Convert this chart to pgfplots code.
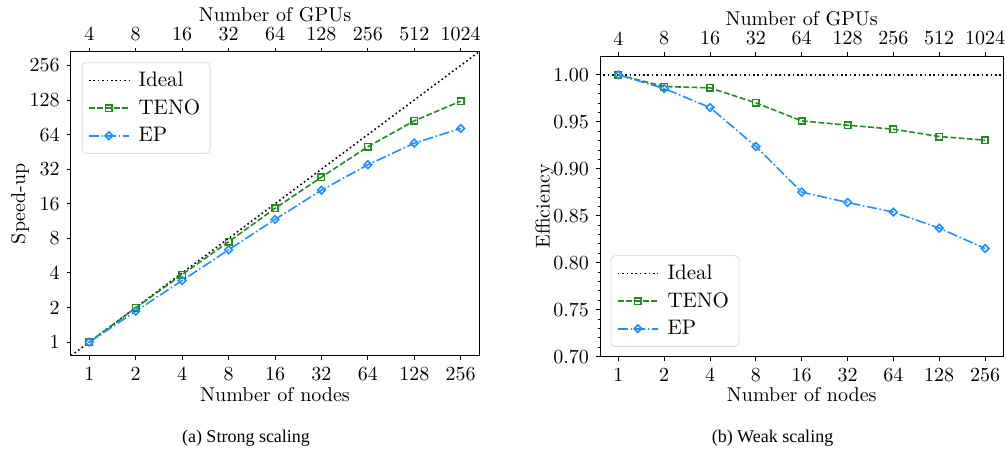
\documentclass[border=0pt]{standalone}
\usepackage{fontspec}
\usepackage{pgfplots}
\pgfplotsset{compat=1.18}
\newfontfamily\capfont{Liberation Serif}
\definecolor{tenogreen}{RGB}{34,139,34}
\definecolor{epblue}{RGB}{30,144,255}

\tikzset{
  scideal/.style={black, line width=0.8pt, dash pattern=on 0.8pt off 1.4pt},
  scteno/.style={tenogreen, line width=0.8pt, dash pattern=on 2.9pt off 1.25pt,
    mark=square, mark size=1.6pt, mark options={solid, fill=white}},
  scep/.style={epblue, line width=0.8pt, dash pattern=on 5.1pt off 1.3pt on 0.8pt off 1.3pt,
    mark=square, mark size=1.35pt, mark options={solid, fill=white, rotate=45}},
}
\pgfplotsset{
  every axis/.append style={
    scale only axis,
    tick align=outside, major tick length=2pt, minor tick length=1.2pt,
    axis line style={line width=0.5pt},
    tick style={black, line width=0.5pt},
    tick label style={font=\rmfamily\fontsize{10}{12}\selectfont},
    label style={font=\rmfamily\fontsize{10}{12}\selectfont},
    legend style={draw=black!15, rounded corners=2pt, fill=white,
      font=\rmfamily\fontsize{10.5}{12.5}\selectfont, row sep=1pt, inner xsep=3pt, inner ysep=2.5pt,
      /tikz/every odd column/.append style={column sep=2.5pt}},
    legend cell align=left,
    legend image code/.code={\draw[mark repeat=2,mark phase=2] plot coordinates {(0cm,0cm) (0.35cm,0cm) (0.7cm,0cm)};},
  },
}

\begin{document}
\begin{tikzpicture}
\useasboundingbox (0,0) rectangle (503.5pt,224.5pt);

% (a) strong scaling
\begin{axis}[at={(35.35pt,46.5pt)}, anchor=south west, width=204.3pt, height=152.2pt,
  xmode=log, log basis x=2, xmin=0.7579, xmax=337.79,
  xtick={1,2,4,8,16,32,64,128,256}, xticklabels={1,2,4,8,16,32,64,128,256},
  xtick pos=bottom, ytick pos=left,
  ymode=log, log basis y=2, ymin=0.7579, ymax=337.79,
  ytick={1,2,4,8,16,32,64,128,256}, yticklabels={1,2,4,8,16,32,64,128,256},
  xlabel={Number of nodes}, ylabel={Speed-up},
  xlabel style={at={(axis description cs:0.5,-0.128)}, anchor=center},
  ylabel style={at={(axis description cs:-0.124,0.5)}, anchor=center},
  legend style={at={(0.027,0.965)}, anchor=north west}]
  \addplot[scideal] coordinates {(0.5,0.5) (512,512)};
  \addplot[scteno] coordinates {(1,1) (2,1.99) (4,3.88) (8,7.47) (16,14.6) (32,27.3) (64,50.2) (128,84.4) (256,125.2)};
  \addplot[scep] coordinates {(1,1) (2,1.86) (4,3.44) (8,6.36) (16,11.69) (32,21.0) (64,34.97) (128,53.97) (256,72.4)};
  \legend{Ideal, TENO, EP}
\end{axis}
\begin{axis}[at={(35.35pt,46.5pt)}, anchor=south west, width=204.3pt, height=152.2pt,
  xmode=log, log basis x=2, xmin=0.7579, xmax=337.79,
  axis x line*=top, axis y line=none, ymin=0, ymax=1,
  xtick={1,2,4,8,16,32,64,128,256}, xticklabels={4,8,16,32,64,128,256,512,1024},
  xlabel={Number of GPUs},
  xlabel style={at={(axis description cs:0.5,1.120)}, anchor=center}]
\end{axis}

% (b) weak scaling
\begin{axis}[at={(300pt,46.15pt)}, anchor=south west, width=201.7pt, height=150.3pt,
  xmode=log, log basis x=2, xmin=0.7579, xmax=337.79,
  xtick={1,2,4,8,16,32,64,128,256}, xticklabels={1,2,4,8,16,32,64,128,256},
  xtick pos=bottom, ytick pos=left,
  ymin=0.70, ymax=1.02,
  ytick={0.70,0.75,0.80,0.85,0.90,0.95,1.00}, minor y tick num=4,
  yticklabel style={/pgf/number format/.cd, fixed, fixed zerofill, precision=2},
  xlabel={Number of nodes}, ylabel={Efficiency},
  xlabel style={at={(axis description cs:0.5,-0.127)}, anchor=center},
  ylabel style={at={(axis description cs:-0.137,0.5)}, anchor=center},
  legend style={at={(0.0265,0.033)}, anchor=south west}]
  \addplot[scideal] coordinates {(0.5,1) (512,1)};
  \addplot[scteno] coordinates {(1,1) (2,0.9876) (4,0.9862) (8,0.9702) (16,0.951) (32,0.9465) (64,0.9422) (128,0.9344) (256,0.9305)};
  \addplot[scep] coordinates {(1,1) (2,0.9855) (4,0.9652) (8,0.9238) (16,0.8752) (32,0.8642) (64,0.8539) (128,0.8369) (256,0.8152)};
  \legend{Ideal, TENO, EP}
\end{axis}
\begin{axis}[at={(300pt,46.15pt)}, anchor=south west, width=201.7pt, height=150.3pt,
  xmode=log, log basis x=2, xmin=0.7579, xmax=337.79,
  axis x line*=top, axis y line=none, ymin=0, ymax=1,
  xtick={1,2,4,8,16,32,64,128,256}, xticklabels={4,8,16,32,64,128,256,512,1024},
  xlabel={Number of GPUs},
  xlabel style={at={(axis description cs:0.5,1.124)}, anchor=center}]
\end{axis}

\node[font=\capfont\fontsize{9}{11}\selectfont] at (123pt,5.5pt) {(a) Strong scaling};
\node[font=\capfont\fontsize{9}{11}\selectfont] at (386.25pt,5.5pt) {(b) Weak scaling};
\end{tikzpicture}
\end{document}
